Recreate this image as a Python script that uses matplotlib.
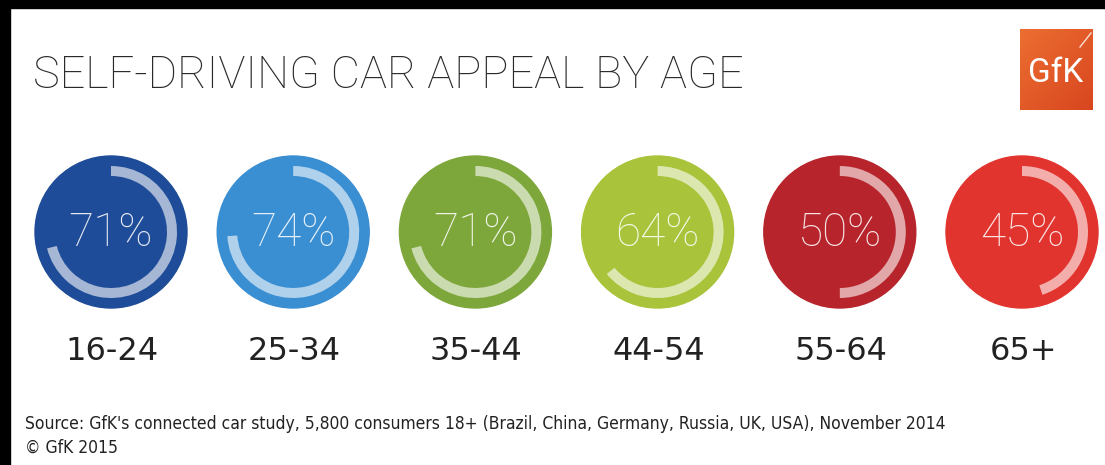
import numpy as np
import matplotlib.pyplot as plt
from matplotlib.colors import LinearSegmentedColormap
from matplotlib.patches import Circle, Wedge, Rectangle

# data
ages = ["16-24", "25-34", "35-44", "44-54", "55-64", "65+"]
appeal = [71, 74, 71, 64, 50, 45]
colors = ["#1f4c98", "#3a8ed2", "#7ea73b", "#a9c33a", "#b7242b", "#e2342e"]

title = "SELF-DRIVING CAR APPEAL BY AGE"
source = ("Source: GfK's connected car study, 5,800 consumers 18+ "
          "(Brazil, China, Germany, Russia, UK, USA), November 2014")
copyright_note = "\u00a9 GfK 2015"

W, H = 1105, 465
fig = plt.figure(figsize=(W / 100, H / 100), dpi=100)
ax = fig.add_axes([0, 0, 1, 1])
ax.set_xlim(0, W)
ax.set_ylim(H, 0)
ax.axis("off")

# black scan border (top and left)
ax.add_patch(Rectangle((0, 0), W, 8, color="black", zorder=5))
ax.add_patch(Rectangle((0, 0), 10, H, color="black", zorder=5))

ax.text(33, 76, title, fontsize=32.5, family=["Roboto", "DejaVu Sans"],
        fontweight="light", color="#2a2a2a", va="center", ha="left")

# logo
grad = np.linspace(0, 1, 64)
gx, gy = np.meshgrid(grad, grad)
ax.imshow(0.5 * gx + 0.5 * gy,
          cmap=LinearSegmentedColormap.from_list("gfk", ["#ec6e31", "#d8461f"]),
          extent=[1020, 1093, 110, 30], zorder=2, aspect="auto")
ax.text(1056, 73, "GfK", fontsize=24, color="white", ha="center", va="center",
        family=["Roboto", "DejaVu Sans"], zorder=3)
ax.plot([1080, 1091], [47, 33], color="white", lw=1, alpha=0.8, zorder=3)

x0, dx, cy, R = 111, 182.2, 232, 76
for i, (age, val, c) in enumerate(zip(ages, appeal, colors)):
    cx = x0 + i * dx
    ax.add_patch(Circle((cx, cy), R, color=c, zorder=2))
    ax.add_patch(Wedge((cx, cy), 66, -90, -90 + 360 * val / 100, width=10,
                       color="white", alpha=0.6, lw=0, zorder=3))
    ax.text(cx, cy + 1, f"{val}%", fontsize=33, color="white", alpha=0.88,
            family=["Roboto", "DejaVu Sans"], fontweight="light",
            ha="center", va="center", zorder=4)
    ax.text(cx + 1, 351, age, fontsize=23, color="#222222",
            ha="center", va="center")

ax.text(25, 424, source, fontsize=12.5, color="#222222", va="center",
        family="DejaVu Sans", fontstretch="condensed")
ax.text(25, 448, copyright_note, fontsize=12.5, color="#222222", va="center",
        family="DejaVu Sans", fontstretch="condensed")

fig.savefig("out.png", dpi=100, facecolor="white")
